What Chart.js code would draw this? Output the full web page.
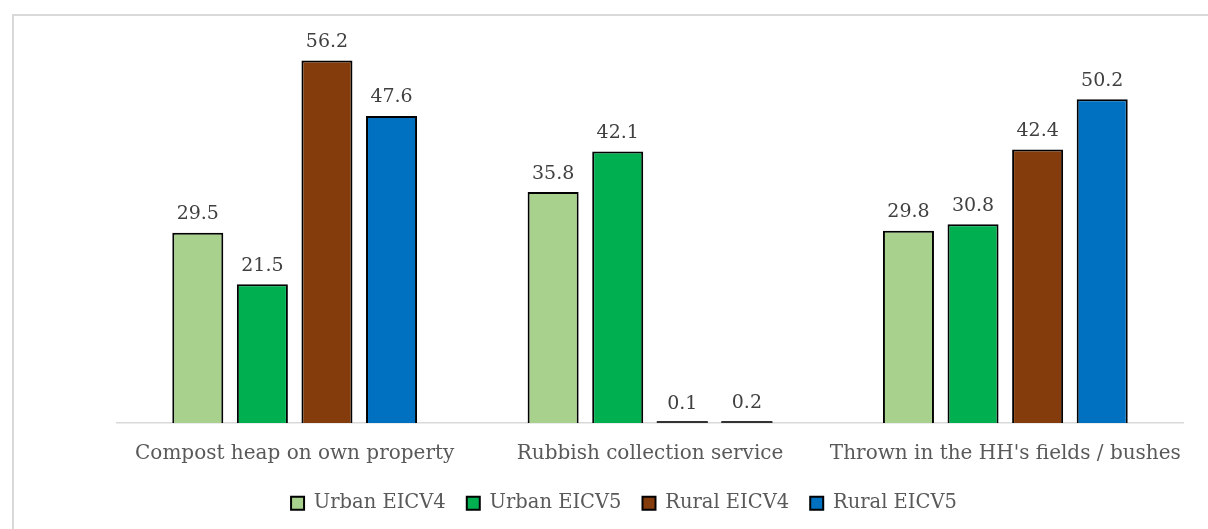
<!DOCTYPE html>
<html>
<head>
<meta charset="utf-8">
<script src="https://cdn.jsdelivr.net/npm/chart.js@4/dist/chart.umd.min.js"></script>
<style>
    html, body { margin: 0; padding: 0; background: #fff; overflow: hidden; }
    #frame { position: absolute; left: 12px; top: 14px; width: 1300px; height: 600px; border: 2px solid #d9d9d9; }
    #wrap { position: absolute; left: 0; top: 0; width: 1208px; height: 529px; }
</style>
</head>
<body>
<div id="frame"></div>
<div id="wrap"><canvas id="chart"></canvas></div>
<script>
    // --- Data ---
    const categories = ['Compost heap on own property', 'Rubbish collection service', "Thrown in the HH's fields / bushes"];
    const seriesNames = ['Urban EICV4', 'Urban EICV5', 'Rural EICV4', 'Rural EICV5'];
    const urbanEicv4 = [29.5, 35.8, 29.8];
    const urbanEicv5 = [21.5, 42.1, 30.8];
    const ruralEicv4 = [56.2, 0.1, 42.4];
    const ruralEicv5 = [47.6, 0.2, 50.2];
    const seriesColors = ['#a9d18e', '#00b050', '#843c0c', '#0070c0'];

    const fontFamily = '"DejaVu Serif", serif';

    // draws the value above each bar, plus an outline for bars too thin to show one
    const valueLabels = {
        id: 'valueLabels',
        afterLayout(chart) {
            // legend sits a bit left of the plot centre
            chart.legend.left -= 26;
            chart.legend.right -= 26;
        },
        afterDatasetsDraw(chart) {
            const ctx = chart.ctx;
            ctx.save();
            chart.data.datasets.forEach((ds, i) => {
                chart.getDatasetMeta(i).data.forEach((bar, j) => {
                    if (bar.base - bar.y < 3) {
                        ctx.fillStyle = '#333';
                        ctx.fillRect(bar.x - bar.width / 2, bar.base - 2, bar.width, 2);
                    }
                    ctx.font = '19px ' + fontFamily;
                    ctx.fillStyle = '#404040';
                    ctx.textAlign = 'center';
                    ctx.textBaseline = 'bottom';
                    ctx.fillText(ds.data[j].toFixed(1), bar.x, bar.y - 9);
                });
            });
            ctx.restore();
        }
    };

    const allSeries = [urbanEicv4, urbanEicv5, ruralEicv4, ruralEicv5];
    const datasets = allSeries.map((values, i) => ({
        label: seriesNames[i],
        data: values,
        backgroundColor: seriesColors[i],
        borderColor: '#000',
        borderWidth: 2,
        categoryPercentage: 0.727,
        barPercentage: 0.79
    }));

    new Chart(document.getElementById('chart'), {
        type: 'bar',
        data: { labels: categories, datasets: datasets },
        options: {
            responsive: true,
            maintainAspectRatio: false,
            animation: false,
            layout: { padding: { left: 117, right: 25, top: 36, bottom: 6 } },
            scales: {
                y: { display: false, min: 0, max: 60 },
                x: {
                    grid: { display: false, drawTicks: false },
                    border: { color: '#d9d9d9', width: 1.5 },
                    ticks: {
                        color: '#595959', padding: 19, maxRotation: 0, minRotation: 0, autoSkip: false,
                        font: { family: fontFamily, size: 20 }
                    },
                    afterFit(scale) { scale.height -= 12.5; }
                }
            },
            plugins: {
                legend: {
                    position: 'bottom',
                    labels: {
                        color: '#595959',
                        boxWidth: 13,
                        boxHeight: 13,
                        padding: 21,
                        font: { family: fontFamily, size: 19.5 },
                        generateLabels(chart) {
                            return chart.data.datasets.map((ds, i) => ({
                                text: ds.label,
                                fillStyle: ds.backgroundColor,
                                strokeStyle: '#000',
                                lineWidth: 2,
                                fontColor: '#595959',
                                datasetIndex: i
                            }));
                        }
                    }
                },
                tooltip: { enabled: false }
            }
        },
        plugins: [valueLabels]
    });
</script>
</body>
</html>
